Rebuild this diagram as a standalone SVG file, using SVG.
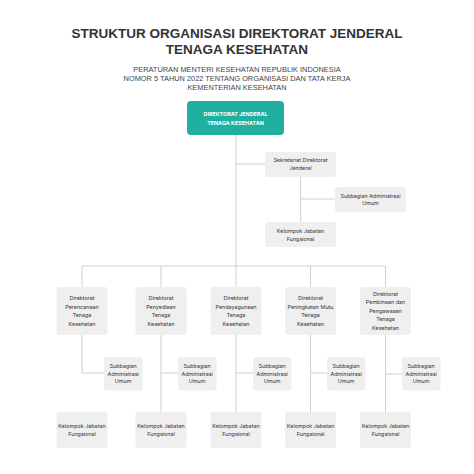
<svg xmlns="http://www.w3.org/2000/svg" width="474" height="474" viewBox="0 0 474 474">
<style>
.title{font-family:"Liberation Sans",Arial,sans-serif;font-weight:bold;font-size:13.5px;fill:#333;text-anchor:middle}
.sub{font-family:"Liberation Sans",Arial,sans-serif;font-size:7.4px;fill:#444;text-anchor:middle}
.box{fill:#efefef}
.t{font-family:Inter,"Noto Sans",sans-serif;font-size:5.4px;fill:#333;text-anchor:middle}
.top{fill:#1fb09f}
.tw{font-family:Inter,"Noto Sans",sans-serif;font-size:5.4px;font-weight:bold;fill:#fff;text-anchor:middle}
.ln{stroke:#c4c4c4;stroke-width:0.8;fill:none}
</style>
<rect width="474" height="474" fill="#fff"/>
<text class="title" x="237" y="38">STRUKTUR ORGANISASI DIREKTORAT JENDERAL</text>
<text class="title" x="237" y="53.5">TENAGA KESEHATAN</text>
<text class="sub" x="237" y="71.5">PERATURAN MENTERI KESEHATAN REPUBLIK INDONESIA</text>
<text class="sub" x="237" y="80.5">NOMOR 5 TAHUN 2022 TENTANG ORGANISASI DAN TATA KERJA</text>
<text class="sub" x="237" y="89.5">KEMENTERIAN KESEHATAN</text>

<g id="connectors">
<path class="ln" d="M236 135V266M236 164H265M300.7 177V222M300.7 199H335"/>
<path class="ln" d="M82 266H385.5M82 266V287M161 266V287M236 266V287M310.5 266V287M385.5 266V287"/>
<path class="ln" d="M82 335V373H104"/>
<path class="ln" d="M161 335V412M161 373H178"/>
<path class="ln" d="M236 335V412M236 373H253"/>
<path class="ln" d="M310.5 335V412M310.5 373H327"/>
<path class="ln" d="M385.5 335V412M385.5 374H402"/>
</g>

<g id="dirjen"><rect class="top" x="187" y="101" width="97" height="34" rx="4"/>
<text class="tw" x="235.5" y="116">DIREKTORAT JENDERAL</text><text class="tw" x="235.5" y="124.5">TENAGA KESEHATAN</text></g>

<g id="sekretariat"><rect class="box" x="265" y="152" width="71" height="25" rx="3"/>
<text class="t" x="300.5" y="162">Sekretariat Direktorat</text><text class="t" x="300.5" y="170">Jenderal</text></g>
<g id="sek-subbag"><rect class="box" x="335" y="187" width="71" height="25" rx="3"/>
<text class="t" x="370.5" y="197.5">Subbagian Administrasi</text><text class="t" x="370.5" y="205">Umum</text></g>
<g id="sek-jf"><rect class="box" x="265" y="222" width="71" height="25" rx="3"/>
<text class="t" x="300.5" y="232.5">Kelompok Jabatan</text><text class="t" x="300.5" y="240.5">Fungsional</text></g>

<g id="dir1"><rect class="box" x="56.5" y="287" width="51" height="48" rx="3"/>
<text class="t" x="82" y="300">Direktorat</text><text class="t" x="82" y="308.5">Perencanaan</text><text class="t" x="82" y="317">Tenaga</text><text class="t" x="82" y="325.5">Kesehatan</text></g>
<g id="dir2"><rect class="box" x="135.5" y="287" width="51" height="48" rx="3"/>
<text class="t" x="161" y="300">Direktorat</text><text class="t" x="161" y="308.5">Penyediaan</text><text class="t" x="161" y="317">Tenaga</text><text class="t" x="161" y="325.5">Kesehatan</text></g>
<g id="dir3"><rect class="box" x="210.5" y="287" width="51" height="48" rx="3"/>
<text class="t" x="236" y="300">Direktorat</text><text class="t" x="236" y="308.5">Pendayagunaan</text><text class="t" x="236" y="317">Tenaga</text><text class="t" x="236" y="325.5">Kesehatan</text></g>
<g id="dir4"><rect class="box" x="285" y="287" width="51" height="48" rx="3"/>
<text class="t" x="310.5" y="300">Direktorat</text><text class="t" x="310.5" y="308.5">Peningkatan Mutu</text><text class="t" x="310.5" y="317">Tenaga</text><text class="t" x="310.5" y="325.5">Kesehatan</text></g>
<g id="dir5"><rect class="box" x="360" y="287" width="51" height="48" rx="3"/>
<text class="t" x="385.5" y="296">Direktorat</text><text class="t" x="385.5" y="304.4">Pembinaan dan</text><text class="t" x="385.5" y="312.8">Pengawasan</text><text class="t" x="385.5" y="321.2">Tenaga</text><text class="t" x="385.5" y="329.6">Kesehatan</text></g>

<g id="sub1"><rect class="box" x="104" y="357" width="38.5" height="33.5" rx="3"/>
<text class="t" x="123.2" y="368">Subbagian</text><text class="t" x="123.2" y="375.5">Administrasi</text><text class="t" x="123.2" y="383">Umum</text></g>
<g id="sub2"><rect class="box" x="178" y="357" width="38.5" height="33.5" rx="3"/>
<text class="t" x="197.2" y="368">Subbagian</text><text class="t" x="197.2" y="375.5">Administrasi</text><text class="t" x="197.2" y="383">Umum</text></g>
<g id="sub3"><rect class="box" x="253" y="357" width="38.5" height="33.5" rx="3"/>
<text class="t" x="272.2" y="368">Subbagian</text><text class="t" x="272.2" y="375.5">Administrasi</text><text class="t" x="272.2" y="383">Umum</text></g>
<g id="sub4"><rect class="box" x="327" y="357" width="38.5" height="33.5" rx="3"/>
<text class="t" x="346.2" y="368">Subbagian</text><text class="t" x="346.2" y="375.5">Administrasi</text><text class="t" x="346.2" y="383">Umum</text></g>
<g id="sub5"><rect class="box" x="402" y="357" width="38.5" height="33.5" rx="3"/>
<text class="t" x="421.2" y="368">Subbagian</text><text class="t" x="421.2" y="375.5">Administrasi</text><text class="t" x="421.2" y="383">Umum</text></g>

<g id="jf1"><rect class="box" x="56.5" y="412" width="51" height="36" rx="3"/>
<text class="t" x="82" y="428">Kelompok Jabatan</text><text class="t" x="82" y="436">Fungsional</text></g>
<g id="jf2"><rect class="box" x="135.5" y="412" width="51" height="36" rx="3"/>
<text class="t" x="161" y="428">Kelompok Jabatan</text><text class="t" x="161" y="436">Fungsional</text></g>
<g id="jf3"><rect class="box" x="210.5" y="412" width="51" height="36" rx="3"/>
<text class="t" x="236" y="428">Kelompok Jabatan</text><text class="t" x="236" y="436">Fungsional</text></g>
<g id="jf4"><rect class="box" x="285" y="412" width="51" height="36" rx="3"/>
<text class="t" x="310.5" y="428">Kelompok Jabatan</text><text class="t" x="310.5" y="436">Fungsional</text></g>
<g id="jf5"><rect class="box" x="360" y="412" width="51" height="36" rx="3"/>
<text class="t" x="385.5" y="428">Kelompok Jabatan</text><text class="t" x="385.5" y="436">Fungsional</text></g>
</svg>
